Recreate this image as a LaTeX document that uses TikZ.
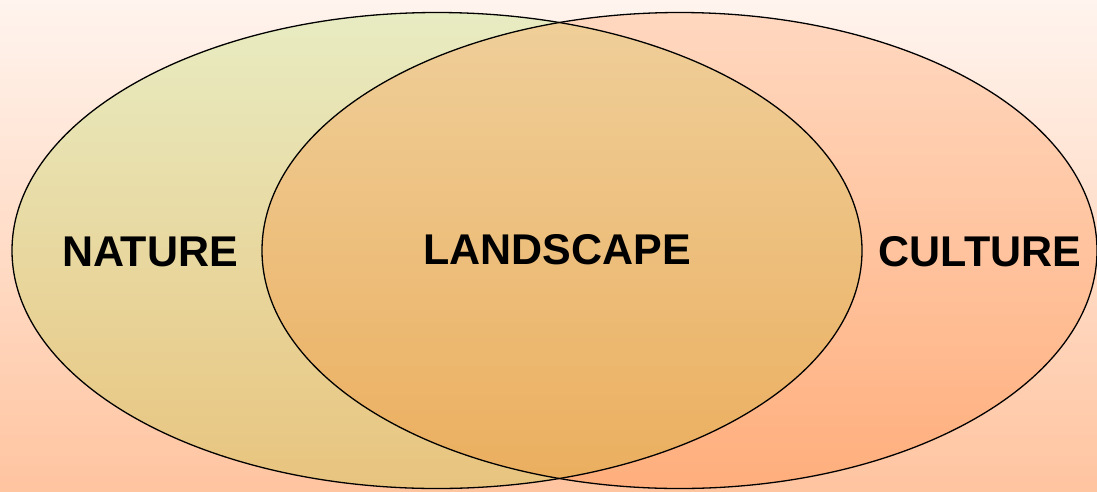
\documentclass[tikz,border=0pt]{standalone}
\usepackage{fontspec}
\setmainfont{Liberation Sans}
\begin{document}
\begin{tikzpicture}[x=1pt,y=-1pt,
  lbl/.style={font=\fontsize{43}{50}\selectfont\bfseries, inner sep=0pt}]
\definecolor{bgtop}{HTML}{FFF4EE}
\definecolor{bgbot}{HTML}{FFC4A0}
\definecolor{ltop}{HTML}{E8ECC2}
\definecolor{lbot}{HTML}{E8C47E}
\definecolor{rtop}{HTML}{FFD8C0}
\definecolor{rbot}{HTML}{FFAE7C}
\definecolor{itop}{HTML}{EFCF9A}
\definecolor{ibot}{HTML}{EBAE5E}
\useasboundingbox (0,0) rectangle (1097,491);
\shade[top color=bgtop, bottom color=bgbot] (0,0) rectangle (1097,491);
\shade[top color=ltop, bottom color=lbot] (437,250.5) ellipse [x radius=425, y radius=238];
\shade[top color=rtop, bottom color=rbot] (679.5,250.5) ellipse [x radius=417.5, y radius=238];
\begin{scope}
  \clip (437,250.5) ellipse [x radius=425, y radius=238];
  \shade[top color=itop, bottom color=ibot] (679.5,250.5) ellipse [x radius=417.5, y radius=238];
\end{scope}
\draw[line width=1.3pt] (437,250.5) ellipse [x radius=425, y radius=238];
\draw[line width=1.3pt] (679.5,250.5) ellipse [x radius=417.5, y radius=238];
\node[lbl] (nature) at (150,252) {NATURE};
\node[lbl] (landscape) at (557,250) {LANDSCAPE};
\node[lbl] (culture) at (980,252) {CULTURE};
\end{tikzpicture}
\end{document}
